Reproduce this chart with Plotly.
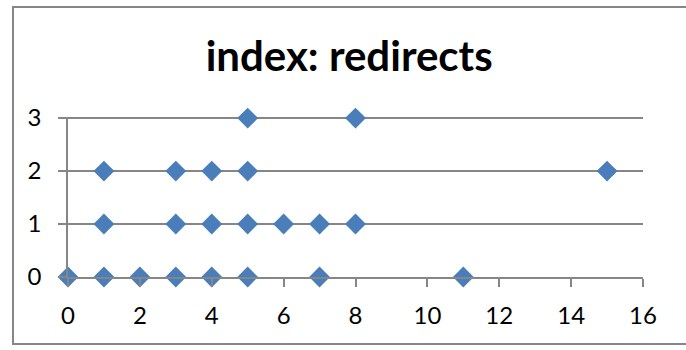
import plotly.graph_objects as go

# Redirect counts observed per index value
index_vals = [5, 8,
              1, 3, 4, 5, 15,
              1, 3, 4, 5, 6, 7, 8,
              0, 1, 2, 3, 4, 5, 7, 11]
redirects = [3, 3,
             2, 2, 2, 2, 2,
             1, 1, 1, 1, 1, 1, 1,
             0, 0, 0, 0, 0, 0, 0, 0]

x_ticks = [0, 2, 4, 6, 8, 10, 12, 14, 16]
y_ticks = [0, 1, 2, 3]

W, H = 686, 350
ML, MR, MT, MB = 68, 43, 118, 73
FONT = "Lato, Calibri, Carlito, sans-serif"
GRID = "#868686"

fig = go.Figure(
    go.Scatter(
        x=index_vals,
        y=redirects,
        mode="markers",
        marker=dict(symbol="diamond", size=16, color="#4a7ebb"),
        cliponaxis=False,
        showlegend=False,
    )
)

fig.update_layout(
    width=W,
    height=H,
    margin=dict(l=ML, r=MR, t=MT - 1, b=MB),
    paper_bgcolor="white",
    plot_bgcolor="white",
    font=dict(family=FONT, size=24, color="black"),
    title=dict(
        text="<b>index: redirects</b>",
        font=dict(family=FONT, size=42, color="black"),
        x=0.489,
        xanchor="center",
        xref="paper",
        y=1 - 56 / H,
        yanchor="middle",
        yref="container",
    ),
    xaxis=dict(
        range=[0, 16],
        tickvals=x_ticks,
        showgrid=False,
        zeroline=False,
        showline=True,
        linecolor=GRID,
        linewidth=1.5,
        ticks="outside",
        ticklen=8,
        tickwidth=1.5,
        tickcolor=GRID,
        ticklabelstandoff=8,
    ),
    yaxis=dict(
        range=[0, 3.02],
        tickvals=y_ticks,
        showgrid=True,
        gridcolor=GRID,
        gridwidth=1.5,
        zeroline=False,
        showline=True,
        linecolor=GRID,
        linewidth=1.5,
        ticks="outside",
        ticklen=8,
        tickwidth=1.5,
        tickcolor=GRID,
        ticklabelstandoff=12,
    ),
    shapes=[
        # chart-area border
        dict(
            type="rect",
            xref="paper", yref="paper",
            xsizemode="pixel", ysizemode="pixel",
            xanchor=0, yanchor=0,
            x0=13 - ML, x1=W + 4 - ML,
            y0=-(344 - (H - MB)), y1=(H - MB) - 7,
            line=dict(color=GRID, width=2),
            fillcolor="rgba(0,0,0,0)",
            layer="below",
        )
    ],
)

fig.write_html("out.html")
